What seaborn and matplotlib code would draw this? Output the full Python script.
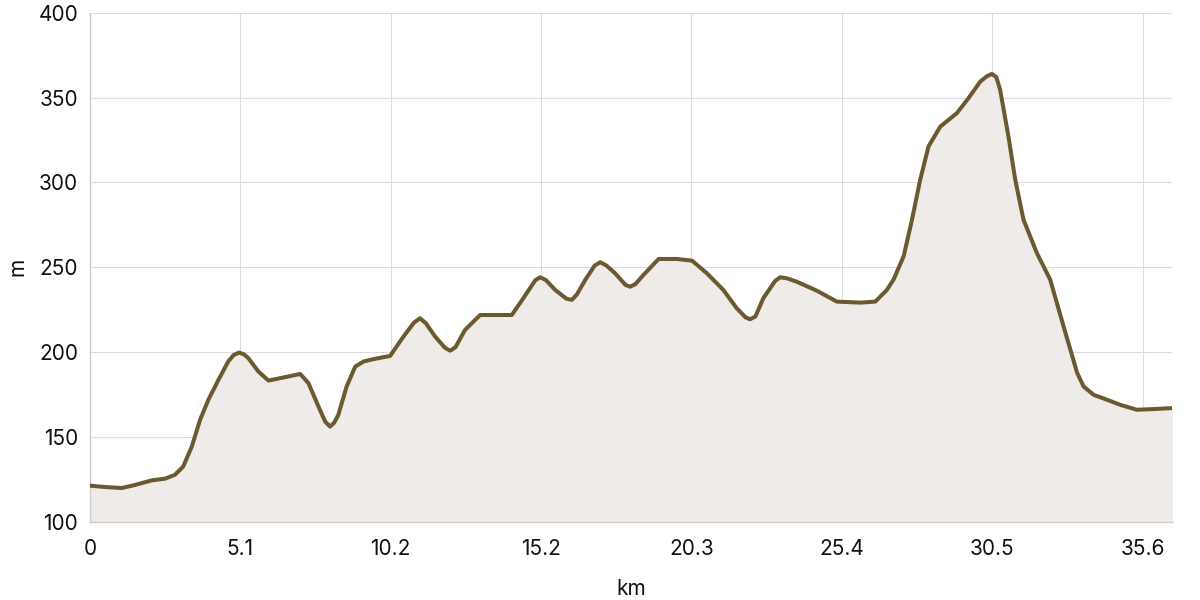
import matplotlib
matplotlib.use("Agg")
import matplotlib.pyplot as plt
import seaborn as sns
import pandas as pd

# elevation profile (km, m)
km = [0, 0.51, 1.07, 1.52, 2.08, 2.53, 2.87, 3.15, 3.44, 3.72, 4.00, 4.34, 4.67, 4.85,
      5.04, 5.20, 5.35, 5.69, 6.03, 6.59, 7.10, 7.38, 7.72, 7.95, 8.11, 8.25, 8.39,
      8.67, 8.96, 9.24, 9.57, 10.14, 10.59, 10.95, 11.15, 11.35, 11.66, 12.00, 12.17,
      12.35, 12.67, 13.18, 14.25, 14.64, 15.05, 15.21, 15.40, 15.72, 16.10, 16.28,
      16.45, 16.73, 17.05, 17.24, 17.45, 17.74, 18.10, 18.25, 18.42, 18.70, 19.21,
      19.83, 20.34, 20.84, 21.40, 21.85, 22.15, 22.30, 22.48, 22.75, 23.15, 23.32,
      23.55, 23.88, 24.56, 25.23, 26.02, 26.53, 26.92, 27.15, 27.49, 27.77, 28.05,
      28.33, 28.73, 29.29, 29.68, 30.08, 30.30, 30.47, 30.62, 30.75, 31.03, 31.26,
      31.54, 31.99, 32.44, 32.89, 33.35, 33.57, 33.91, 34.36, 34.81, 35.37, 35.93, 36.57]
elev = [121.4, 120.6, 120.0, 121.8, 124.5, 125.5, 127.8, 132.7, 144.5, 160.2, 172, 183.7,
        194.5, 198.3, 199.8, 198.7, 196.5, 188.6, 183.3, 185.3, 187.2, 181.8, 168, 159,
        156.2, 158.5, 163.1, 179.8, 191.5, 194.5, 195.9, 197.8, 209.2, 217.5, 220, 217,
        209.2, 202.5, 200.9, 203, 213.1, 221.9, 221.9, 231.8, 242.5, 244.1, 242.5, 236.6,
        231.5, 230.8, 234, 242.5, 251, 253.0, 251, 246.5, 239.5, 238.6, 240, 245.5,
        254.9, 254.9, 253.9, 246.5, 236.6, 225.9, 220.5, 219.4, 221, 231.8, 242, 244.1,
        243.5, 241.5, 236.2, 229.8, 229.2, 229.8, 236.6, 242.8, 256.5, 277.9, 301.6,
        321.2, 332.9, 340.8, 349.6, 359.4, 362.5, 363.9, 362, 354.6, 327.1, 301.6,
        278, 258.4, 242.8, 215.4, 187.9, 179.8, 174.9, 172, 169, 166.1, 166.5, 167.1]

xticks = [0, 5.08, 10.16, 15.24, 20.32, 25.4, 30.48, 35.56]
xlabels = ["0", "5.1", "10.2", "15.2", "20.3", "25.4", "30.5", "35.6"]
yticks = [100, 150, 200, 250, 300, 350, 400]

df = pd.DataFrame({"km": km, "m": elev})

sns.set_style("white")
plt.rcParams["font.family"] = ["Inter", "DejaVu Sans"]

fig, ax = plt.subplots(figsize=(12, 6), dpi=100)
fig.subplots_adjust(left=0.075, right=0.977, top=0.979, bottom=0.13)

ax.fill_between(df["km"], df["m"], 100, color="#efebe8", zorder=1)
sns.lineplot(data=df, x="km", y="m", ax=ax, color="#6b5a30", linewidth=2.9,
             zorder=3, solid_joinstyle="round", solid_capstyle="round")

ax.set_xlim(0, 36.57)
ax.set_ylim(100, 400)
ax.set_xticks(xticks)
ax.set_xticklabels(xlabels)
ax.set_yticks(yticks)
ax.grid(True, color="#dcdcdc", linewidth=0.8, zorder=0)
ax.set_axisbelow(True)

for s in ["top", "right"]:
    ax.spines[s].set_visible(False)
for s in ["left", "bottom"]:
    ax.spines[s].set_color("#cccccc")
    ax.spines[s].set_linewidth(1)

ax.tick_params(axis="both", labelsize=15, labelcolor="#111111", length=6.5, width=0.8,
               color="#dddddd", pad=2)
ax.tick_params(axis="x", pad=6)
ax.set_xlabel("km", fontsize=15, color="#111111", labelpad=14)
ax.set_ylabel("m", fontsize=15, color="#111111", labelpad=8)

fig.savefig("out.png", dpi=100)
